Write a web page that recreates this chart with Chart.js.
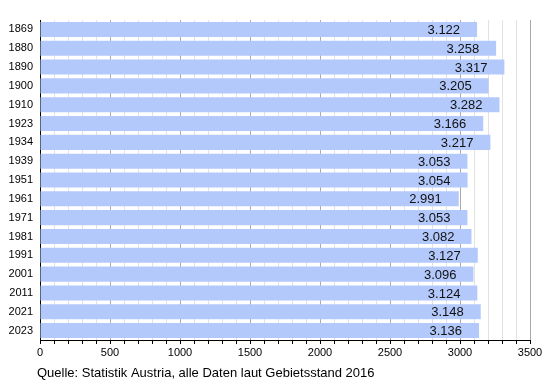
<!DOCTYPE html>
<html>
<head>
<meta charset="utf-8">
<script src="https://cdn.jsdelivr.net/npm/chart.js@4"></script>
<style>
  html, body { margin: 0; padding: 0; background: #fff; }
  #wrap { width: 550px; height: 380px; }
</style>
</head>
<body>
<div id="wrap"><canvas id="popChart" width="550" height="380"></canvas></div>
<script>
const years = ["1869", "1880", "1890", "1900", "1910", "1923", "1934", "1939", "1951",
               "1961", "1971", "1981", "1991", "2001", "2011", "2021", "2023"];
const population = [3122, 3258, 3317, 3205, 3282, 3166, 3217, 3053, 3054,
                    2991, 3053, 3082, 3127, 3096, 3124, 3148, 3136];
const sourceText = "Quelle: Statistik Austria, alle Daten laut Gebietsstand 2016";

const FONT = "'Liberation Sans', Arial, sans-serif";

function formatDe(v) {
    return String(v).replace(/\B(?=(\d{3})+(?!\d))/g, ".");
}

const valueLabels = {
    id: "valueLabels",
    afterDatasetsDraw(chart) {
        const ctx = chart.ctx;
        const meta = chart.getDatasetMeta(0);
        ctx.save();
        ctx.font = "13px " + FONT;
        ctx.fillStyle = "#111";
        ctx.textAlign = "right";
        ctx.textBaseline = "middle";
        meta.data.forEach((bar, i) => {
            ctx.fillText(formatDe(population[i]), bar.x - 17, bar.y + 1);
        });
        ctx.restore();
    }
};

const sourceNote = {
    id: "sourceNote",
    afterDraw(chart) {
        const ctx = chart.ctx;
        ctx.save();
        ctx.font = "13px " + FONT;
        ctx.fillStyle = "#000";
        ctx.textAlign = "left";
        ctx.textBaseline = "alphabetic";
        ctx.fillText(sourceText, 37, 377);
        ctx.restore();
    }
};

new Chart(document.getElementById("popChart").getContext("2d"), {
    type: "bar",
    data: {
        labels: years,
        datasets: [{
            data: population,
            backgroundColor: "#b3c9fb",
            borderWidth: 0,
            barPercentage: 0.8,
            categoryPercentage: 1.0
        }]
    },
    options: {
        indexAxis: "y",
        responsive: false,
        animation: false,
        layout: { padding: { top: 20, right: 20, bottom: 20, left: 0 } },
        plugins: {
            legend: { display: false },
            tooltip: { enabled: false }
        },
        scales: {
            x: {
                min: 0,
                max: 3500,
                afterFit: scale => { scale.height = 20; },
                border: { display: true, color: "#000", width: 1 },
                grid: {
                    color: c => (c.tick && c.tick.value % 500 === 0) ? "#aaaaaa" : "#e2e2e2",
                    tickColor: "#000",
                    tickLength: 4,
                    drawTicks: true
                },
                ticks: {
                    stepSize: 100,
                    autoSkip: false,
                    maxRotation: 0,
                    padding: 2,
                    color: "#000",
                    font: { family: FONT, size: 11 },
                    callback: v => (v % 500 === 0 ? String(v) : "")
                }
            },
            y: {
                afterFit: scale => { scale.width = 40; },
                border: { display: true, color: "#000", width: 1 },
                grid: { display: false, drawTicks: false },
                ticks: {
                    padding: 7,
                    color: "#000",
                    font: { family: FONT, size: 11 }
                }
            }
        }
    },
    plugins: [valueLabels, sourceNote]
});
</script>
</body>
</html>
